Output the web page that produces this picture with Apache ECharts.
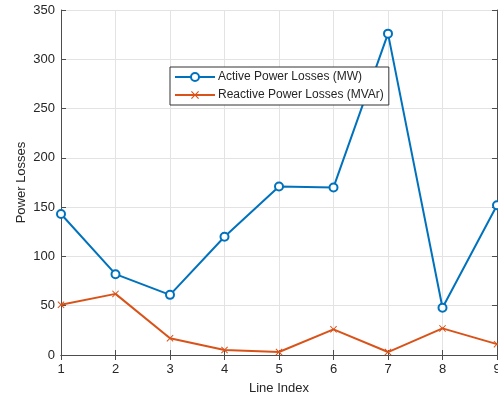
<!DOCTYPE html>
<html><head><meta charset="utf-8">
<script src="https://cdn.jsdelivr.net/npm/echarts@6/dist/echarts.min.js"></script>
<style>html,body{margin:0;padding:0;background:#fff}#c{width:498px;height:400px}</style>
</head><body><div id="c"></div>
<script>
const lineIndex = [1, 2, 3, 4, 5, 6, 7, 8, 9];
const activeLoss = [143, 82, 61, 120, 171, 170, 326, 48, 152];
const reactiveLoss = [51, 62, 17, 5, 3, 26, 3, 27, 11];
const yTicks = [0, 50, 100, 150, 200, 250, 300, 350];

const FONT = '"Liberation Sans", Arial, sans-serif';
const AX = '#4d4d4d';
const TXT = '#262626';
const BLUE = '#0072BD';
const ORANGE = '#D95319';
const XSYM = 'path://M0,1L1,0L5,4L9,0L10,1L6,5L10,9L9,10L5,6L1,10L0,9L4,5Z';

const chart = echarts.init(document.getElementById('c'), null, {renderer: 'canvas'});
chart.setOption({
  animation: false,
  backgroundColor: '#fff',
  grid: {left: 61, right: 1, top: 10, bottom: 45, show: false, containLabel: false, outerBoundsMode: 'none'},
  legend: {
    left: 170, top: 67,
    orient: 'vertical',
    backgroundColor: '#fff',
    borderColor: '#333', borderWidth: 1,
    padding: [4, 5, 4, 4],
    itemGap: 6,
    itemWidth: 40, itemHeight: 10,
    textStyle: {fontFamily: FONT, fontSize: 12, color: TXT, padding: [0, 0, 0, -2]},
    data: ['Active Power Losses (MW)', 'Reactive Power Losses (MVAr)']
  },
  xAxis: [{
    type: 'value', min: 1, max: 9, interval: 1,
    name: 'Line Index', nameLocation: 'middle', nameGap: 27, nameMoveOverlap: false,
    nameTextStyle: {fontFamily: FONT, fontSize: 13, color: TXT},
    axisLine: {lineStyle: {color: AX, width: 1}},
    axisTick: {inside: true, length: 5, lineStyle: {color: AX}},
    axisLabel: {fontFamily: FONT, fontSize: 13, color: TXT, margin: 8, hideOverlap: false},
    splitLine: {show: true, lineStyle: {color: '#e3e3e3', width: 1}}
  }, {
    type: 'value', min: 1, max: 9, interval: 1, position: 'top',
    axisLine: {show: true, lineStyle: {color: AX, width: 1}},
    axisTick: {inside: true, length: 5, lineStyle: {color: AX}},
    axisLabel: {show: false}, splitLine: {show: false}
  }],
  yAxis: [{
    type: 'value', min: 0, max: 350, interval: 50,
    name: 'Power Losses', nameLocation: 'middle', nameGap: 33, nameMoveOverlap: false,
    nameTextStyle: {fontFamily: FONT, fontSize: 13, color: TXT},
    axisLine: {show: true, lineStyle: {color: AX, width: 1}},
    axisTick: {show: true, inside: true, length: 5, lineStyle: {color: AX}},
    axisLabel: {fontFamily: FONT, fontSize: 13, color: TXT, margin: 6,
      formatter: v => yTicks.includes(v) ? String(v) : ''},
    splitLine: {show: true, lineStyle: {color: '#e3e3e3', width: 1}}
  }, {
    type: 'value', min: 0, max: 350, interval: 50, position: 'right',
    axisLine: {show: true, lineStyle: {color: AX, width: 1}},
    axisTick: {show: true, inside: true, length: 5, lineStyle: {color: AX}},
    axisLabel: {show: false}, splitLine: {show: false}
  }],
  series: [{
    name: 'Active Power Losses (MW)', type: 'line',
    data: lineIndex.map((x, i) => [x, activeLoss[i]]),
    symbol: 'emptyCircle', symbolSize: 8, showAllSymbol: true,
    lineStyle: {color: BLUE, width: 2},
    itemStyle: {color: BLUE, borderColor: BLUE, borderWidth: 1.5},
    emphasis: {disabled: true}, z: 3
  }, {
    name: 'Reactive Power Losses (MVAr)', type: 'line',
    data: lineIndex.map((x, i) => [x, reactiveLoss[i]]),
    symbol: XSYM, symbolSize: 7, showAllSymbol: true,
    lineStyle: {color: ORANGE, width: 2},
    itemStyle: {color: ORANGE, borderWidth: 0},
    emphasis: {disabled: true}, z: 2
  }]
});
</script></body></html>
